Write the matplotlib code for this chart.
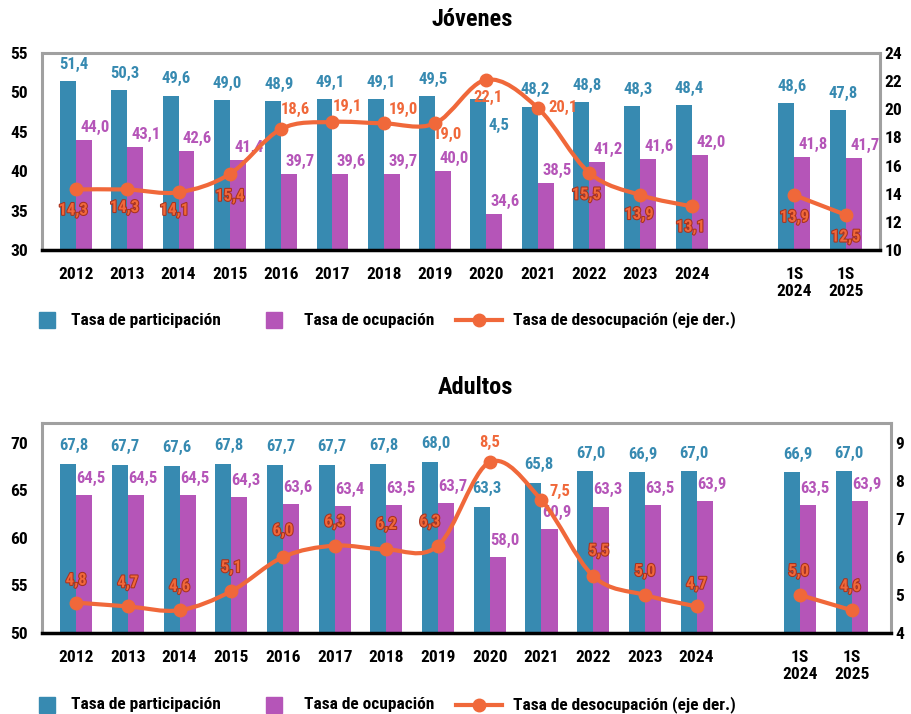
import matplotlib.pyplot as plt
import matplotlib.patheffects as pe
from matplotlib import font_manager
from matplotlib.path import Path
from matplotlib.patches import PathPatch, Rectangle
from matplotlib.lines import Line2D
from matplotlib.textpath import TextPath
from matplotlib.font_manager import FontProperties
import numpy as np

# Datos
categorias = ["2012", "2013", "2014", "2015", "2016", "2017", "2018", "2019",
              "2020", "2021", "2022", "2023", "2024", "1S\n2024", "1S\n2025"]

jov_participacion = [51.4, 50.3, 49.6, 49.0, 48.9, 49.1, 49.1, 49.5,
                     49.2, 48.2, 48.8, 48.3, 48.4, 48.6, 47.8]
jov_part_etiquetas = ["51,4", "50,3", "49,6", "49,0", "48,9", "49,1", "49,1", "49,5",
                      "4,5", "48,2", "48,8", "48,3", "48,4", "48,6", "47,8"]
jov_ocupacion = [44.0, 43.1, 42.6, 41.4, 39.7, 39.6, 39.7, 40.0,
                 34.6, 38.5, 41.2, 41.6, 42.0, 41.8, 41.7]
jov_desocupacion = [14.3, 14.3, 14.1, 15.4, 18.6, 19.1, 19.0, 19.0,
                    22.1, 20.1, 15.5, 13.9, 13.1, 13.9, 12.5]

adu_participacion = [67.8, 67.7, 67.6, 67.8, 67.7, 67.7, 67.8, 68.0,
                     63.3, 65.8, 67.0, 66.9, 67.0, 66.9, 67.0]
adu_ocupacion = [64.5, 64.5, 64.5, 64.3, 63.6, 63.4, 63.5, 63.7,
                 58.0, 60.9, 63.3, 63.5, 63.9, 63.5, 63.9]
adu_desocupacion = [4.8, 4.7, 4.6, 5.1, 6.0, 6.3, 6.2, 6.3,
                    8.5, 7.5, 5.5, 5.0, 4.7, 5.0, 4.6]

# Estilo
AZUL = "#378AB1"
VIOLETA = "#B555B8"
NARANJA = "#F0683A"
BORDE = "#A8321E"


# buscar una fuente angosta y negrita si existe
def peso(w):
    if isinstance(w, str):
        return font_manager.weight_dict.get(w, 400)
    return w


def es_angosta(f):
    if "Narrow" in f.name or "Condensed" in f.name:
        return True
    s = f.stretch
    if isinstance(s, str):
        return "condensed" in s
    return s < 500


cands = [f for f in font_manager.fontManager.ttflist
         if es_angosta(f) and peso(f.weight) >= 600 and f.style == "normal"]
preferidas = ["Liberation Sans Narrow", "Roboto Condensed", "Open Sans Condensed",
              "Noto Sans", "Open Sans", "DejaVu Sans"]
cands.sort(key=lambda f: (next((i for i, p in enumerate(preferidas) if f.name.startswith(p)), 99),
                          abs(peso(f.weight) - 700)))
if cands:
    familia = cands[0].name
    estiramiento = cands[0].stretch
    peso_sel = cands[0].weight
else:
    familia, estiramiento, peso_sel = "DejaVu Sans", "normal", "bold"
plt.rcParams["font.family"] = [familia, "DejaVu Sans"]
plt.rcParams["font.stretch"] = estiramiento
plt.rcParams["font.weight"] = peso_sel


def tam(texto, ancho_px, maximo):
    # tamaño de letra para que el texto ocupe aprox. ancho_px
    fp = FontProperties(family=[familia, "DejaVu Sans"], weight=peso_sel, stretch=estiramiento, size=maximo)
    w = TextPath((0, 0), texto, prop=fp).get_extents().width * 100 / 72
    return max(maximo * 0.72, min(maximo, maximo * ancho_px / w))


T_TICK = tam("2012", 34, 15)
T_VAL = tam("51,4", 28, 13)
T_LEY = tam("Tasa de participación", 148, 14)
T_TIT = tam("Jóvenes", 80, 18)

pos = np.array(list(range(13)) + [14, 15], dtype=float)
ancho = 0.31

# offsets (pt) de las etiquetas de desocupacion y si llevan contorno
jov_off = [(-2, -15), (-2, -13), (-3, -13), (0, -16), (10, 14), (11, 11), (14, 10), (9, -8),
           (1, -13), (18, 0), (-2, -16), (-1, -14), (-1, -15), (0, -16), (0, -16)]
jov_cont = [True, True, True, True, False, False, False, False,
            False, False, True, True, True, True, True]
adu_off = [(0, 16), (0, 17), (0, 17), (0, 17), (0, 19), (0, 17), (0, 18), (-6, 17),
           (0, 14), (13, 6), (4, 18), (0, 17), (0, 16), (-1, 17), (-1, 17)]
adu_cont = [True, True, True, True, True, True, True, True,
            False, False, True, True, True, True, True]


def curva_suave(ax, xs, ys, **kw):
    # Catmull-Rom como curvas de Bezier
    p = np.column_stack([xs, ys])
    verts = [p[0]]
    codes = [Path.MOVETO]
    n = len(p)
    for i in range(n - 1):
        p0 = p[i - 1] if i > 0 else p[i]
        p1, p2 = p[i], p[i + 1]
        p3 = p[i + 2] if i + 2 < n else p[i + 1]
        verts += [p1 + (p2 - p0) / 6, p2 - (p3 - p1) / 6, p2]
        codes += [Path.CURVE4] * 3
    ax.add_patch(PathPatch(Path(verts, codes), fill=False, **kw))


def panel(rect, part, ocup, desoc, ylim, yticks, y2lim, y2ticks, xlim, part_lab,
          off_azul, off_viol, d_off, d_cont, especiales={}):
    ax = fig.add_axes(rect)
    ax.bar(pos - ancho / 2, part, ancho, color=AZUL, zorder=2)
    ax.bar(pos + ancho / 2, ocup, ancho, color=VIOLETA, zorder=2)
    ax.set_ylim(*ylim)
    ax.set_xlim(*xlim)
    ax.set_yticks(yticks)
    ax.set_xticks(pos)
    ax.set_xticklabels(categorias)
    ax.tick_params(axis="x", length=0, pad=12, labelsize=T_TICK)
    ax.tick_params(axis="y", length=0, pad=10, labelsize=T_TICK)
    for s in ["top", "left", "right"]:
        ax.spines[s].set_color("#A0A0A0")
        ax.spines[s].set_linewidth(2.2)
    ax.spines["bottom"].set_color("black")
    ax.spines["bottom"].set_linewidth(2.5)
    ax.spines["bottom"].set_zorder(5)

    for i, (x, v, t) in enumerate(zip(pos, part, part_lab)):
        ax.annotate(t, (x - ancho / 2, v), xytext=especiales.get(i, off_azul),
                    textcoords="offset points", ha="center", va="center",
                    color=AZUL, fontsize=T_VAL, zorder=6)
    for x, v in zip(pos, ocup):
        ax.annotate(f"{v:.1f}".replace(".", ","), (x + ancho / 2, v), xytext=off_viol,
                    textcoords="offset points", ha="center", va="center",
                    color=VIOLETA, fontsize=T_VAL, zorder=6)

    ax2 = ax.twinx()
    ax2.set_ylim(*y2lim)
    ax2.set_yticks(y2ticks)
    ax2.tick_params(axis="y", length=0, pad=3, labelsize=T_TICK)
    for s in ax2.spines.values():
        s.set_visible(False)
    curva_suave(ax2, pos[:13], desoc[:13], color=NARANJA, lw=3, zorder=3)
    curva_suave(ax2, pos[13:], desoc[13:], color=NARANJA, lw=3, zorder=3)
    ax2.plot(pos, desoc, "o", color=NARANJA, ms=9, zorder=4)
    for x, v, o, c in zip(pos, desoc, d_off, d_cont):
        t = ax2.annotate(f"{v:.1f}".replace(".", ","), (x, v), xytext=o, textcoords="offset points",
                         ha="center", va="center", color=NARANJA, fontsize=T_VAL, zorder=7)
        if c:
            t.set_path_effects([pe.withStroke(linewidth=1.5, foreground=BORDE)])
    return ax


def leyenda(y):
    h = 16 / 714
    w = 16 / 912
    fig.add_artist(Rectangle((39 / 912, y - h / 2), w, h, color=AZUL, transform=fig.transFigure))
    fig.text(71 / 912, y, "Tasa de participación", fontsize=T_LEY, va="center")
    fig.add_artist(Rectangle((266 / 912, y - h / 2), w, h, color=VIOLETA, transform=fig.transFigure))
    fig.text(304 / 912, y, "Tasa de ocupación", fontsize=T_LEY, va="center")
    fig.add_artist(Line2D([456 / 912, 502 / 912], [y, y], color=NARANJA, lw=3,
                          transform=fig.transFigure))
    fig.add_artist(Line2D([479 / 912], [y], color=NARANJA, marker="o", ms=9,
                          transform=fig.transFigure))
    fig.text(513 / 912, y, "Tasa de desocupación (eje der.)", fontsize=T_LEY, va="center")


fig = plt.figure(figsize=(9.12, 7.14), dpi=100)

panel([42 / 912, 1 - 250 / 714, (880 - 42) / 912, 197 / 714],
      jov_participacion, jov_ocupacion, jov_desocupacion,
      (30, 55), range(30, 56, 5), (10, 24), range(10, 25, 2), (-0.66, 15.67),
      jov_part_etiquetas, (4, 12), (8, 9), jov_off, jov_cont, especiales={8: (15, -19)})
fig.text(472 / 912, 1 - 19 / 714, "Jóvenes", fontsize=T_TIT, ha="center", va="center")
leyenda(1 - 320 / 714)

panel([42 / 912, 1 - 633 / 714, (891 - 42) / 912, 210 / 714],
      adu_participacion, adu_ocupacion, adu_desocupacion,
      (50, 72.1), range(50, 71, 5), (4, 9.53), range(4, 10), (-0.66, 15.76),
      [f"{v:.1f}".replace(".", ",") for v in adu_participacion], (4, 13), (5, 12), adu_off, adu_cont)
fig.text(475 / 912, 1 - 388 / 714, "Adultos", fontsize=T_TIT, ha="center", va="center")
leyenda(1 - 705 / 714)

fig.savefig("out.png", dpi=100)
